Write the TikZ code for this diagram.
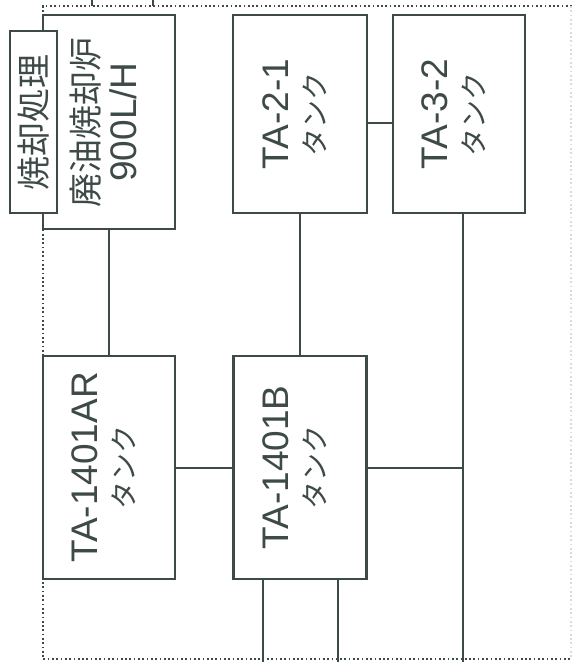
\documentclass[tikz,border=0pt]{standalone}
\usepackage{fontspec}
\usepackage{graphicx}
\setmainfont{Liberation Sans}
\newfontfamily\jp{Noto Sans CJK JP}
\definecolor{linegray}{RGB}{62,74,72}
\newcommand{\sidetext}[1]{\rotatebox{90}{\fontsize{37}{37}\selectfont\begin{tabular}{@{}c@{}}#1\end{tabular}}}
\newcommand{\kana}{{\jp\fontsize{28}{28}\selectfont タンク}}

\begin{document}
\begin{tikzpicture}[x=1pt, y=-1pt,
  box/.style = {draw=linegray, line width=2.6pt, fill=white, inner sep=0pt, text=linegray},
  pipe/.style = {draw=linegray, line width=2pt},
  border/.style = {draw=linegray, line width=1.7pt, dash pattern=on 1.7pt off 2.6pt}]
  \useasboundingbox[fill=white] (0,0) rectangle (572,662);
  % dotted boundary
  \draw[border] (572,6) -- (43,6) -- (43,659) -- (572,659);
  \draw[border, draw=linegray!20] (571,6) -- (571,659);
  % equipment
  \node[box, minimum width=132pt, minimum height=214pt] (burner) at (109,122)
    {\sidetext{{\jp\fontsize{34}{34}\selectfont 廃油焼却炉}\\ 900L/H}};
  \node[box, minimum width=47pt, minimum height=182pt] (burnlabel) at (33.5,122)
    {\rotatebox{90}{\jp\fontsize{34}{34}\selectfont 焼却処理}};
  \node[box, minimum width=134pt, minimum height=198pt] (ta21) at (300,114) {\sidetext{TA-2-1\\ \kana}};
  \node[box, minimum width=132pt, minimum height=198pt] (ta32) at (459,114) {\sidetext{TA-3-2\\ \kana}};
  \node[box, minimum width=132pt, minimum height=223pt] (taar) at (109,467.5) {\sidetext{TA-1401AR\\ \kana}};
  \node[box, minimum width=133pt, minimum height=223pt] (tab) at (300,467.5) {\sidetext{TA-1401B\\ \kana}};
  % free ends
  \coordinate (link) at (380,123);
  \coordinate (drain) at (463,662);
  \coordinate (out1) at (263,662);
  \coordinate (out2) at (338,662);
  \coordinate (in1) at (92,0);
  \coordinate (in2) at (153,0);
  \coordinate (topedge) at (0,6);
  % piping
  \draw[pipe] (burner) -- (taar);
  \draw[pipe] (ta21) -- (tab);
  \draw[pipe] (taar) -- (tab);
  \draw[pipe] (ta21.east |- link) -- (ta32.west |- link);
  \draw[pipe] (ta32.south -| drain) -- (drain);
  \draw[pipe] (tab.east) -- (tab.east -| drain);
  \draw[pipe] (tab.south -| out1) -- (out1);
  \draw[pipe] (tab.south -| out2) -- (out2);
  \draw[pipe] (in1) -- (in1 |- topedge);
  \draw[pipe] (in2) -- (in2 |- topedge);
\end{tikzpicture}
\end{document}
